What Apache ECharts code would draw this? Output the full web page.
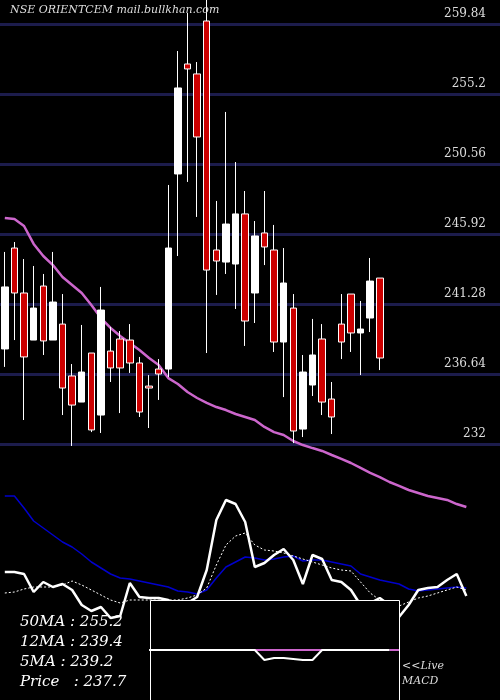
<!DOCTYPE html>
<html><head><meta charset="utf-8">
<script src="https://cdn.jsdelivr.net/npm/echarts@6/dist/echarts.min.js"></script>
<style>html,body{margin:0;background:#000}#c{width:500px;height:700px}</style>
</head><body><div id="c"></div>
<script>
// [open, close, low, high]
const candles = [
[238.30,242.41,237.11,244.73],[244.99,242.01,238.89,245.39],[242.01,237.77,233.59,244.26],[238.89,241.01,238.89,243.80],
[242.47,238.83,237.90,243.27],[238.89,241.41,238.89,244.73],[239.95,235.71,233.92,241.94],[236.51,234.58,231.87,237.30],
[234.78,236.77,234.78,239.89],[238.03,232.93,232.79,238.03],[233.92,240.88,232.73,242.41],[238.16,237.04,236.11,239.76],
[238.96,237.04,234.05,239.49],[238.89,237.37,236.71,239.95],[237.37,234.12,233.79,237.77],[235.84,235.71,233.06,236.57],
[236.97,236.64,234.92,237.63],[236.97,244.99,236.44,249.17],[249.90,255.60,244.46,258.05],[257.19,256.86,249.37,260.57],
[256.53,252.35,247.05,257.32],[260.04,243.53,238.03,261.43],[244.86,244.13,241.88,248.11],[244.06,246.58,243.27,254.01],
[243.93,247.25,240.95,250.69],[247.25,240.15,238.50,248.77],[242.01,245.79,240.02,246.78],[245.99,245.06,243.86,248.77],
[244.86,238.76,238.10,246.52],[238.76,242.67,235.11,244.99],[241.01,232.86,232.06,241.94],[232.99,236.77,232.46,237.90],
[235.91,237.90,235.18,240.29],[238.96,234.78,233.92,239.95],[234.98,233.79,232.66,236.11],[239.95,238.76,237.63,241.94],
[241.94,239.36,238.10,241.94],[239.36,239.62,236.57,241.48],[240.35,242.80,239.42,244.33],[243.00,237.70,236.90,243.00]
];
const ma50 = [246.98,246.91,246.45,245.26,244.46,243.86,243.07,242.54,242.01,241.21,240.35,239.69,239.16,238.70,238.23,237.70,
237.24,236.37,235.98,235.45,235.05,234.72,234.45,234.25,233.99,233.79,233.59,233.13,232.79,232.60,232.20,231.93,231.73,231.54,
231.27,231.01,230.74,230.41,230.08,229.81,229.48,229.22,228.95,228.75,228.55,228.42,228.29,228.02,227.82];
const blueLine = [104,104,92,79,72,65,58,53,46,38,32,26,22,21,19,17,15,13,9,8,6,10,22,33,38,43,42,40,41,43,44,39,40,40,38,36,34,26,23,20,18,16,11,9,10,11,12,13,12];
const whiteLine = [28,28,26,8,18,13,16,10,-5,-11,-7,-18,-16,17,3,2,2,0,-5,-3,3,30,80,100,96,78,33,37,45,51,40,16,45,41,20,18,10,-5,-3,2,-5,-17,-5,10,12,13,20,26,4];
const signalLine = [7,8,11,13,13,13,15,19,15,10,5,0,-3,0,0,0,0,0,0,2,5,12,35,55,64,67,55,50,49,47,44,41,38,35,32,30,29,18,7,0,-5,-6,-2,2,4,7,10,13,10];
const macdHist = {15:50,16:50,17:50,18:50,19:50,20:50,21:50,22:50,23:50,24:50,25:50,26:50,27:40,28:42,29:42,30:41,31:40,32:40,33:50,34:50,35:50,36:50,37:50,38:50,39:50,40:50};
const macdZero = {26:50,27:50,28:50,29:50,30:50,31:50,32:50,33:50,40:50,41:50};
const priceTicks = [259.84,255.2,250.56,245.92,241.28,236.64,232];
const title = 'NSE ORIENTCEM mail.bullkhan.com';
const legendRows = ['50MA : 255.2','12MA : 239.4','5MA : 239.2','Price   : 237.7'];

const N = 52;
const cats = Array.from({length:N},(_,i)=>String(i));
const pad = a => cats.map((_,i)=> i<a.length ? a[i] : '-');
const fromMap = m => cats.map((_,i)=> m[i]!==undefined ? m[i] : '-');
const serif = 'DejaVu Serif';
const gl = -1.85, gw = N*9.69;
const grids = [
 {left:gl, width:gw, top:0, height:549.6},
 {left:gl, width:gw, top:480, height:160},
 {left:gl, width:gw, top:600, height:100}
];
const chart = echarts.init(document.getElementById('c'));
chart.setOption({
 backgroundColor:'#000', animation:false,
 grid: grids,
 xAxis: [0,1,2].map(i=>({type:'category',data:cats,gridIndex:i,show:false,boundaryGap:true})),
 yAxis: [
  {gridIndex:0,min:225,max:261.431,show:false,splitLine:{show:false}},
  {gridIndex:1,min:-40,max:120,show:false,splitLine:{show:false}},
  {gridIndex:2,min:0,max:100,show:false,splitLine:{show:false}}
 ],
 graphic:[
  {type:'rect',shape:{x:150.5,y:600.5,width:249,height:110},style:{fill:'#000',stroke:'#fff',lineWidth:1},z:100},
  {type:'text',left:10,top:5,style:{text:title,fill:'#ddd',font:'italic 11px '+serif},z:300},
  ...legendRows.map((t,k)=>({type:'text',left:20,top:615+k*20,style:{text:t,fill:'#fff',font:'italic 15px '+serif},z:300})),
  {type:'text',left:402,top:659,style:{text:'<<Live\nMACD',fill:'#ddd',font:'italic 11px '+serif,lineHeight:15},z:300}
 ],
 series:[
  {type:'candlestick',xAxisIndex:0,yAxisIndex:0,data:pad(candles),barWidth:7,z:5,
   itemStyle:{color:'#fff',color0:'#cc0000',borderColor:'#fff',borderColor0:'#fff',borderWidth:1},
   markLine:{silent:true,symbol:'none',z:1,lineStyle:{color:'#1c1c4c',width:3,type:'solid'},label:{show:false},
     data:priceTicks.map(v=>({yAxis:v}))}},
  {type:'line',xAxisIndex:0,yAxisIndex:0,data:pad(ma50),symbol:'none',lineStyle:{color:'#cc66cc',width:2.5},z:3},
  {type:'line',xAxisIndex:1,yAxisIndex:1,data:pad(blueLine),symbol:'none',lineStyle:{color:'#0000cc',width:1.5},z:4},
  {type:'line',xAxisIndex:1,yAxisIndex:1,data:pad(signalLine),symbol:'none',lineStyle:{color:'#fff',width:1,type:[2,2]},z:4},
  {type:'line',xAxisIndex:1,yAxisIndex:1,data:pad(whiteLine),symbol:'none',lineStyle:{color:'#fff',width:2.5},z:5},
  {type:'line',xAxisIndex:2,yAxisIndex:2,data:fromMap(macdZero),symbol:'none',lineStyle:{color:'#cc66cc',width:2},z:200,clip:true},
  {type:'line',xAxisIndex:2,yAxisIndex:2,data:fromMap(macdHist),symbol:'none',lineStyle:{color:'#fff',width:2},z:201,clip:true}
 ]
});
const lbls = priceTicks.map(v=>{
  const y = chart.convertToPixel({yAxisIndex:0}, v);
  return {type:'text',right:14,top:y-16,style:{text:String(v),fill:'#ddd',font:'12px '+serif,textAlign:'right'},z:300};
});
chart.setOption({graphic: chart.getOption().graphic[0].elements.concat(lbls)});
</script></body></html>
